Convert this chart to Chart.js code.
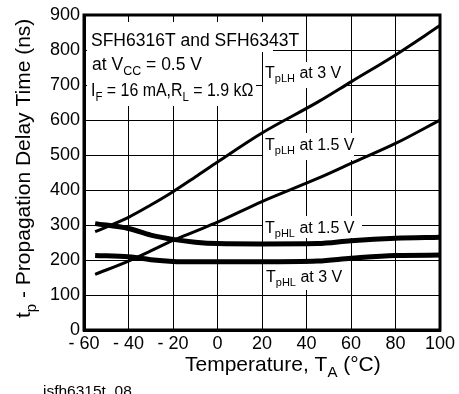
<!DOCTYPE html>
<html>
<head>
<meta charset="utf-8">
<script src="https://cdn.jsdelivr.net/npm/chart.js"></script>
<style>
  html, body { margin: 0; padding: 0; background: #fff; }
  #chart-delay { display: block; }
</style>
</head>
<body>
<canvas id="chart-delay" width="459" height="394"></canvas>
<script>
//=================================================================
// DATA
//=================================================================
const temperature = [-55, -40, -30, -20, -10, 0, 20, 45, 60, 80, 100]; // T_A (°C)
const tpLH3V   = [281, 322, 357, 395, 437, 480, 563, 651, 709, 786, 870];
const tpLH15V  = [159, 197, 226, 256, 282, 308, 367, 433, 476, 533, 600];
const tpHL15V  = [304, 290, 271, 259, 251, 247, 246, 247, 255, 262, 265];
const tpHL3V   = [213, 209, 201, 196, 195, 195, 195, 197, 205, 213, 214];

const xTickLabels = ['- 60', '- 40', '- 20', '0', '20', '40', '60', '80', '100'];
const yTickLabels = ['0', '100', '200', '300', '400', '500', '600', '700', '800', '900'];

const FONT = '"Liberation Sans", Arial, Helvetica, sans-serif';

function toPoints(ys) {
    return temperature.map((t, i) => ({ x: t, y: ys[i] }));
}

// text with subscripts: parts = [[text, isSub], ...]
function drawRich(ctx, parts, x, y, size, subSize, subDrop, hscale) {
    ctx.save();
    ctx.translate(x, y);
    if (hscale) ctx.scale(hscale, 1);
    ctx.textAlign = 'left';
    ctx.textBaseline = 'alphabetic';
    let cx = 0;
    parts.forEach(p => {
        ctx.font = (p[1] ? subSize : size) + 'px ' + FONT;
        ctx.fillText(p[0], cx, p[1] ? subDrop : 0);
        cx += ctx.measureText(p[0]).width;
    });
    ctx.restore();
}

//=================================================================
// labels, frame, axis titles
//=================================================================
const decorations = {
    id: 'decorations',
    beforeDatasetsDraw(chart) {
        const ctx = chart.ctx;
        ctx.save();
        ctx.fillStyle = '#fff';
        // white boxes that hide the grid behind the texts
        ctx.fillRect(87, 22, 186, 30);
        ctx.fillRect(87, 52, 169, 54);
        ctx.fillRect(263, 62, 82, 26);
        ctx.fillRect(263, 133, 91, 27);
        ctx.fillRect(263, 216, 99, 22);
        ctx.fillRect(263, 264, 79, 26);

        ctx.fillStyle = '#000';
        drawRich(ctx, [['SFH6316T and SFH6343T', false]], 91, 46, 17.5, 12.5, 5);
        drawRich(ctx, [['at V', false], ['CC', true], [' = 0.5 V', false]], 92, 70, 17.5, 12.5, 5);
        drawRich(ctx, [['I', false], ['F', true], [' = 16 mA,R', false], ['L', true], [' = 1.9 kΩ', false]], 91, 96, 17.5, 12.5, 5, 0.91);

        drawRich(ctx, [['T', false], ['pLH', true], [' at 3 V', false]], 265, 78, 16, 11, 4);
        drawRich(ctx, [['T', false], ['pLH', true], [' at 1.5 V', false]], 265, 150, 16, 11, 4);
        drawRich(ctx, [['T', false], ['pHL', true], [' at 1.5 V', false]], 265, 233, 16, 11, 4);
        drawRich(ctx, [['T', false], ['pHL', true], [' at 3 V', false]], 266, 282, 16, 11, 4);
        ctx.restore();
    },
    afterDraw(chart) {
        const ctx = chart.ctx;
        const a = chart.chartArea;
        ctx.save();
        ctx.strokeStyle = '#000';
        ctx.lineWidth = 3;
        ctx.strokeRect(a.left, a.top, a.right - a.left, a.bottom - a.top);

        ctx.fillStyle = '#000';
        // x title
        drawRich(ctx, [['Temperature, T', false], ['A', true], [' (°C)', false]], 185, 371, 21, 15, 6);
        // y title (rotated)
        ctx.translate(30, 318);
        ctx.rotate(-Math.PI / 2);
        drawRich(ctx, [['t', false], ['p', true], [' - Propagation Delay Time (ns)', false]], 0, 0, 21, 15, 6);
        ctx.restore();

        ctx.save();
        ctx.fillStyle = '#000';
        drawRich(ctx, [['isfh6315t_08', false]], 43, 396, 15.5, 11, 4);
        ctx.restore();
    }
};

//=================================================================
// CHART
//=================================================================
const chartDelay = document.getElementById('chart-delay');

new Chart(chartDelay, {
    type: 'line',
    data: {
        datasets: [
            { label: 'TpLH at 3 V',   data: toPoints(tpLH3V),  borderWidth: 3 },
            { label: 'TpLH at 1.5 V', data: toPoints(tpLH15V), borderWidth: 3 },
            { label: 'TpHL at 1.5 V', data: toPoints(tpHL15V), borderWidth: 5 },
            { label: 'TpHL at 3 V',   data: toPoints(tpHL3V),  borderWidth: 5 }
        ].map(d => Object.assign(d, {
            borderColor: '#000',
            backgroundColor: '#000',
            pointRadius: 0,
            fill: false,
            cubicInterpolationMode: 'monotone'
        }))
    },
    options: {
        responsive: false,
        animation: false,
        layout: { padding: { left: 0, top: 15, right: 19, bottom: 0 } },
        plugins: {
            legend: { display: false },
            tooltip: { enabled: false }
        },
        scales: {
            x: {
                type: 'linear',
                min: -60,
                max: 100,
                afterFit: s => { s.height = 64; },
                afterBuildTicks: s => { s.ticks = xTickLabels.map((l, i) => ({ value: -60 + 20 * i })); },
                ticks: {
                    color: '#000',
                    padding: 3,
                    font: { family: FONT, size: 18 },
                    maxRotation: 0,
                    callback: (v, i) => xTickLabels[i]
                },
                grid: { color: '#000', lineWidth: 1, drawTicks: false },
                border: { display: true, color: '#000', width: 3 }
            },
            y: {
                min: 0,
                max: 900,
                afterFit: s => { s.width = 84; },
                afterBuildTicks: s => { s.ticks = yTickLabels.map((l, i) => ({ value: 100 * i })); },
                ticks: {
                    color: '#000',
                    padding: 4,
                    font: { family: FONT, size: 18 },
                    callback: (v, i) => yTickLabels[i]
                },
                grid: { color: '#000', lineWidth: 1, drawTicks: false },
                border: { display: true, color: '#000', width: 3 }
            }
        }
    },
    plugins: [decorations]
});
</script>
</body>
</html>
